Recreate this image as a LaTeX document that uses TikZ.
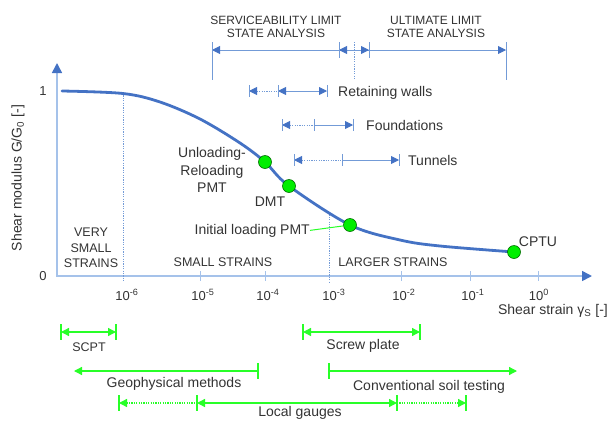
\documentclass[tikz,border=0pt]{standalone}
\usepackage{fontspec}
\setmainfont{Liberation Sans}
\usetikzlibrary{arrows.meta}
\definecolor{axisblue}{RGB}{165,194,234}
\definecolor{lineblue}{RGB}{115,155,215}
\definecolor{darkblue}{RGB}{68,114,196}
\definecolor{txt}{RGB}{51,51,51}
\definecolor{lgreen}{RGB}{40,255,40}
\definecolor{dotgreen}{RGB}{0,238,0}
\definecolor{dotedge}{RGB}{0,110,0}
\tikzset{
  BT/.tip={Triangle[length=8pt,width=8pt,color=darkblue]},
  AT/.tip={Triangle[length=10pt,width=10pt,color=darkblue]},
  GT/.tip={Triangle[length=8pt,width=8pt,color=lgreen]},
}
\begin{document}
\begin{tikzpicture}[x=1pt,y=-1pt,
  lbl/.style={text=txt,inner sep=0pt,font=\fontsize{14}{17.5}\selectfont,align=center},
  caps/.style={text=txt,inner sep=0pt,font=\fontsize{12}{13}\selectfont,align=center},
  regcap/.style={text=txt,inner sep=0pt,font=\fontsize{12.5}{15.5}\selectfont,align=center},
  ticklbl/.style={text=txt,inner sep=0pt,font=\fontsize{13}{15}\selectfont,anchor=base},
  bl/.style={draw=lineblue,line width=0.9pt},
  gl/.style={draw=lgreen,line width=1.3pt},
  fine/.style={dash pattern=on 1.2pt off 1.2pt},
  axis/.style={draw=axisblue,line width=1.6pt},
  dot/.style={circle,fill=dotgreen,draw=dotedge,line width=0.6pt,minimum size=13pt,inner sep=0pt},
]
\useasboundingbox (0,0) rectangle (611,421);

% ---------- axes ----------
\coordinate (ytop) at (57,63);
\coordinate (orig) at (57,276);
\coordinate (xend) at (592,276);
\draw[axis,AT-AT] (ytop) -- (orig) -- (xend);
\foreach \x/\n in {200/a,265/b,401/c,470/d,538/e}{
  \coordinate (tk\n) at (\x,276);
  \draw[axis,line width=1pt] ([yshift=5pt]tk\n) -- ([yshift=-5pt]tk\n);
}
% dotted separators
\coordinate (v1t) at (123,93);
\coordinate (v1b) at (123,282);
\coordinate (v2t) at (329,212);
\coordinate (v2b) at (329,282);
\draw[bl,fine] (v1t) -- (v1b);
\draw[bl,fine] (v2t) -- (v2b);

% axis labels
\node[ticklbl,anchor=center] (one) at (43,91) {1};
\node[ticklbl,anchor=center] (zero) at (43,276) {0};
\node[lbl,rotate=90] (ylab) at (18,178) {Shear modulus G/G\textsubscript{0} [-]};
\node[lbl,anchor=base east] (xlab) at (608,314) {Shear strain γ\textsubscript{S} [-]};
\node[ticklbl] (e6) at (127,300) {10\textsuperscript{-6}};
\node[ticklbl] (e5) at (203,300) {10\textsuperscript{-5}};
\node[ticklbl] (e4) at (268,300) {10\textsuperscript{-4}};
\node[ticklbl] (e3) at (334,300) {10\textsuperscript{-3}};
\node[ticklbl] (e2) at (404,300) {10\textsuperscript{-2}};
\node[ticklbl] (e1) at (473,300) {10\textsuperscript{-1}};
\node[ticklbl] (e0) at (539,300) {10\textsuperscript{0}};

% region labels
\node[regcap] (vss) at (91,248) {VERY\\SMALL\\STRAINS};
\node[regcap] (ss) at (223,262) {SMALL STRAINS};
\node[regcap] (ls) at (393,262) {LARGER STRAINS};

% ---------- curve ----------
\draw[darkblue,line width=2.8pt,line cap=round] plot[smooth,tension=0.55] coordinates
 {(62,91) (123,93.5) (160,102) (200,119) (240,143) (265,162) (289,186) (350,225) (400,240) (440,246) (514,252)};
\node[dot] (d1) at (265,162) {};
\node[dot] (d2) at (289,186) {};
\node[dot] (d3) at (350,225) {};
\node[dot] (d4) at (514,252) {};
\node[lbl] (ulr) at (212,170) {Unloading-\\Reloading\\PMT};
\node[lbl] (dmt) at (270,202) {DMT};
\node[lbl,anchor=base east] (ilp) at (310,234) {Initial loading PMT};
\draw[draw=lgreen,line width=1pt] (ilp.east) -- (d3);
\node[lbl] (cptu) at (538,242) {CPTU};

% ---------- limit state brackets ----------
\node[caps] (sls) at (276,26.5) {SERVICEABILITY LIMIT\\STATE ANALYSIS};
\node[caps] (uls) at (436,26.5) {ULTIMATE LIMIT\\STATE ANALYSIS};
\coordinate (t1) at (212,50);
\coordinate (t2) at (339,50);
\coordinate (tm) at (354,50);
\coordinate (t3) at (369,50);
\coordinate (t4) at (506,50);
\draw[bl,BT-] (t1) -- (tm);
\draw[bl,BT-] (t2) -- (tm);
\draw[bl,-BT] (tm) -- (t4);
\draw[bl,-BT] (tm) -- (t3);
\draw[bl] ([yshift=8pt]t1) -- ([yshift=-30pt]t1);
\draw[bl] ([yshift=8pt]t4) -- ([yshift=-30pt]t4);
\draw[bl] ([yshift=8pt]t2) -- ([yshift=-8pt]t2);
\draw[bl] ([yshift=8pt]t3) -- ([yshift=-8pt]t3);
\draw[bl,fine] ([yshift=8pt]tm) -- ([yshift=-30pt]tm);

% retaining walls
\coordinate (r1) at (249,91);
\coordinate (r2) at (278,91);
\coordinate (r3) at (327,91);
\draw[bl,fine,BT-] (r1) -- (r2);
\draw[bl,BT-BT] (r2) -- (r3);
\foreach \c in {r1,r2,r3}{\draw[bl] ([yshift=6pt]\c) -- ([yshift=-6pt]\c);}
\node[lbl,anchor=base west] (rw) at (338,96) {Retaining walls};

% foundations
\coordinate (f1) at (282,125);
\coordinate (f2) at (314,125);
\coordinate (f3) at (353,125);
\draw[bl,fine,BT-] (f1) -- (f2);
\draw[bl,-BT] (f2) -- (f3);
\foreach \c in {f1,f2,f3}{\draw[bl] ([yshift=6pt]\c) -- ([yshift=-6pt]\c);}
\node[lbl,anchor=base west] (fd) at (366,130) {Foundations};

% tunnels
\coordinate (u1) at (294,160);
\coordinate (u2) at (342,160);
\coordinate (u3) at (399,160);
\draw[bl,fine,BT-] (u1) -- (u2);
\draw[bl,-BT] (u2) -- (u3);
\foreach \c in {u1,u2,u3}{\draw[bl] ([yshift=6pt]\c) -- ([yshift=-6pt]\c);}
\node[lbl,anchor=base west] (tn) at (408,165) {Tunnels};

% ---------- test ranges (green) ----------
\coordinate (g1) at (61,332);
\coordinate (g2) at (116,332);
\draw[gl,GT-GT] (g1) -- (g2);
\foreach \c in {g1,g2}{\draw[gl] ([yshift=8pt]\c) -- ([yshift=-8pt]\c);}
\node[regcap] (scpt) at (89,347) {SCPT};

\coordinate (s1) at (303,332);
\coordinate (s2) at (420,332);
\draw[gl,GT-GT] (s1) -- (s2);
\foreach \c in {s1,s2}{\draw[gl] ([yshift=8pt]\c) -- ([yshift=-8pt]\c);}
\node[lbl,anchor=base] (scr) at (363,349) {Screw plate};

\coordinate (p1) at (74,371);
\coordinate (p2) at (258,371);
\draw[gl,GT-] (p1) -- (p2);
\draw[gl] ([yshift=8pt]p2) -- ([yshift=-8pt]p2);
\node[lbl,anchor=base] (geo) at (174,387) {Geophysical methods};

\coordinate (c1) at (329,371);
\coordinate (c2) at (517,371);
\draw[gl,-GT] (c1) -- (c2);
\draw[gl] ([yshift=8pt]c1) -- ([yshift=-8pt]c1);
\node[lbl,anchor=base] (cst) at (429,390) {Conventional soil testing};

\coordinate (l1) at (119,403);
\coordinate (l2) at (197,403);
\coordinate (l3) at (397,403);
\coordinate (l4) at (466,403);
\draw[gl,fine,GT-] (l1) -- (l2);
\draw[gl,GT-GT] (l2) -- (l3);
\draw[gl,fine,-GT] (l3) -- (l4);
\foreach \c in {l1,l2,l3,l4}{\draw[gl] ([yshift=8pt]\c) -- ([yshift=-8pt]\c);}
\node[lbl,anchor=base] (lg) at (300,416.5) {Local gauges};
\end{tikzpicture}
\end{document}
